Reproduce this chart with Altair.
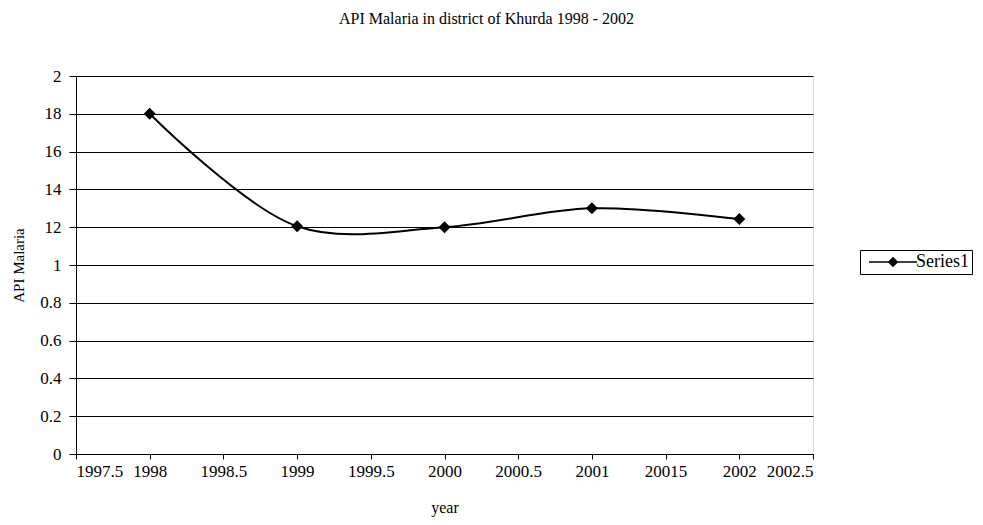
import altair as alt
import pandas as pd

years = [1998, 1999, 2000, 2001, 2002]
api_values = [1.80, 1.205, 1.20, 1.30, 1.243]
series_name = "Series1"

y_tick_values = [0, 0.2, 0.4, 0.6, 0.8, 1.0, 1.2, 1.4, 1.6, 1.8, 2.0]
y_tick_labels = ["0", "0.2", "0.4", "0.6", "0.8", "1", "12", "14", "16", "18", "2"]
x_tick_values = [1997.5, 1998, 1998.5, 1999, 1999.5, 2000, 2000.5, 2001, 2001.5, 2002, 2002.5]
x_tick_labels = ["1997.5", "1998", "1998.5", "1999", "1999.5", "2000", "2000.5", "2001", "20015", "2002", "2002.5"]

title_text = "API Malaria in district of Khurda 1998 - 2002"
x_title = "year"
y_title = "API Malaria"

df = pd.DataFrame({"year": years, "api": api_values, "series": [series_name] * len(years)})

def label_expr(values, labels):
    parts = []
    for v, l in zip(values, labels):
        parts.append(f"abs(datum.value - {v}) < 1e-6 ? '{l}' : ")
    return "".join(parts) + "datum.label"

FONT = "Liberation Serif"

x_enc = alt.X(
    "year:Q",
    scale=alt.Scale(domain=[1997.5, 2002.5], nice=False, zero=False),
    axis=alt.Axis(
        values=x_tick_values,
        labelExpr=label_expr(x_tick_values, x_tick_labels),
        title=x_title,
        grid=False,
        domainColor="black",
        tickColor="black",
        tickSize=5,
        labelColor="black",
        labelFont=FONT,
        labelFontSize=17,
        labelPadding=4,
        titleFont=FONT,
        titleFontSize=16,
        titleFontWeight="normal",
        titleColor="black",
        titlePadding=20,
    ),
)
y_enc = alt.Y(
    "api:Q",
    scale=alt.Scale(domain=[0, 2], nice=False),
    axis=alt.Axis(
        values=y_tick_values,
        labelExpr=label_expr(y_tick_values, y_tick_labels),
        title=y_title,
        grid=True,
        gridColor="black",
        gridOpacity=1,
        gridWidth=1,
        domainColor="black",
        tickColor="black",
        tickSize=7,
        labelColor="black",
        labelFont=FONT,
        labelFontSize=17,
        labelPadding=8,
        titleFont=FONT,
        titleFontSize=15,
        titleFontWeight="normal",
        titleColor="black",
        titleX=-58,
        titleY=189,
        titleBaseline="middle",
    ),
)

line = alt.Chart(df).mark_line(color="black", strokeWidth=2, interpolate="catmull-rom").encode(
    x=x_enc, y=y_enc
)

points = alt.Chart(df).mark_point(shape="diamond", filled=True, size=144, opacity=1).encode(
    x=x_enc,
    y=y_enc,
    color=alt.Color(
        "series:N",
        scale=alt.Scale(range=["black"]),
        legend=alt.Legend(
            title=None,
            orient="none",
            legendX=784,
            legendY=174,
            symbolType="M-4,0H4M0,-0.7L0.7,0L0,0.7L-0.7,0Z",
            symbolSize=144,
            symbolOffset=21,
            symbolStrokeWidth=1.5,
            symbolStrokeColor="black",
            symbolFillColor="black",
            labelFont=FONT,
            labelFontSize=18,
            labelColor="black",
            labelOffset=14,
            strokeColor="black",
            padding=3,
            cornerRadius=0,
        ),
    ),
)

chart = (
    alt.layer(line, points)
    .properties(
        width=737,
        height=378,
        title=alt.TitleParams(
            text=title_text,
            font=FONT,
            fontSize=16,
            fontWeight="normal",
            color="black",
            anchor="middle",
            dx=42,
            offset=40,
        ),
        autosize=alt.AutoSizeParams(type="none"),
        padding={"left": 68, "top": 68, "right": 162, "bottom": 63},
    )
    .configure_view(stroke=None)
    .configure(background="white")
)

chart.save("out.html", embed_options={"renderer": "svg", "actions": False})
